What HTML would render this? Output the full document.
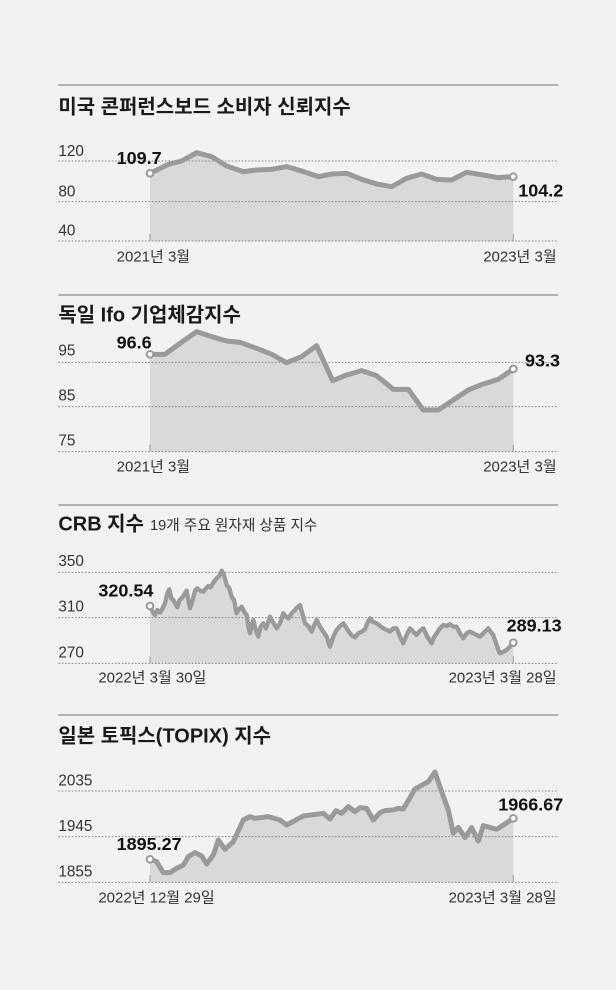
<!DOCTYPE html>
<html><head><meta charset="utf-8"><style>
html,body{margin:0;padding:0;background:#f2f2f2;}
svg{display:block;}
.t{font-family:"Liberation Sans","Noto Sans CJK KR",sans-serif;font-weight:bold;font-size:60px;fill:#1a1a1a;}
.s{font-family:"Liberation Sans","Noto Sans CJK KR",sans-serif;font-size:44px;fill:#333;}
.k{font-family:"Liberation Sans",sans-serif;font-size:46px;fill:#333;}
.v{font-family:"Liberation Sans",sans-serif;font-weight:bold;font-size:54px;fill:#111;}
.b{font-family:"Liberation Sans","Noto Sans CJK KR",sans-serif;font-size:45px;fill:#333;}
.r{stroke:#888;stroke-width:4;}
.g{stroke:#888;stroke-width:3;stroke-dasharray:5 5;}
.a{fill:#d9d9d9;}
.l{fill:none;stroke:#9a9a9a;stroke-width:15;stroke-linejoin:round;}
.c{fill:#fff;stroke:#9a9a9a;stroke-width:6;}
.tk{stroke:#999;stroke-width:3;}
</style></head><body>
<svg width="616" height="990" viewBox="0 0 616 990" xmlns="http://www.w3.org/2000/svg">
<rect width="616" height="990" fill="#f2f2f2"/>

<g transform="translate(50,80) scale(0.3333)">
<line class="r" x1="25" y1="15" x2="1525" y2="15"/>
<text class="t" x="25" y="100">미국 콘퍼런스보드 소비자 신뢰지수</text>
<polygon class="a" points="300,280 355,253 395,243 440,218 485,230 530,258 580,275 620,270 665,268 710,260 755,273 805,290 845,282 890,280 935,298 980,312 1025,320 1070,295 1115,282 1160,298 1205,300 1250,277 1300,285 1345,293 1390,290 1390,483 300,483"/>
<line class="g" x1="25" y1="243" x2="1525" y2="243"/>
<line class="g" x1="25" y1="365" x2="1525" y2="365"/>
<line class="g" x1="25" y1="483" x2="1525" y2="483"/>
<line class="tk" x1="300" y1="462" x2="300" y2="483"/><line class="tk" x1="1390" y1="462" x2="1390" y2="483"/>
<polyline class="l" points="300,280 355,253 395,243 440,218 485,230 530,258 580,275 620,270 665,268 710,260 755,273 805,290 845,282 890,280 935,298 980,312 1025,320 1070,295 1115,282 1160,298 1205,300 1250,277 1300,285 1345,293 1390,290"/>
<circle class="c" cx="300" cy="280" r="10"/><circle class="c" cx="1390" cy="290" r="10"/>
<text class="k" x="25" y="228">120</text><text class="k" x="25" y="350">80</text><text class="k" x="25" y="467">40</text>
<text class="v" x="200" y="252">109.7</text><text class="v" x="1405" y="350">104.2</text>
<text class="b" x="200" y="545">2021년 3월</text><text class="b" x="1520" y="545" text-anchor="end">2023년 3월</text>
</g>

<g transform="translate(50,290) scale(0.3333)">
<line class="r" x1="25" y1="15" x2="1525" y2="15"/>
<text class="t" x="25" y="95">독일 Ifo 기업체감지수</text>
<polygon class="a" points="300,193 345,193 390,160 440,125 485,140 530,153 570,157 620,175 665,193 710,218 755,200 800,167 848,272 890,255 935,242 980,257 1030,298 1075,298 1120,360 1165,360 1210,330 1255,300 1300,282 1345,268 1390,237 1390,485 300,485"/>
<line class="g" x1="25" y1="217" x2="1525" y2="217"/>
<line class="g" x1="25" y1="350" x2="1525" y2="350"/>
<line class="g" x1="25" y1="485" x2="1525" y2="485"/>
<line class="tk" x1="300" y1="464" x2="300" y2="485"/><line class="tk" x1="1390" y1="464" x2="1390" y2="485"/>
<polyline class="l" points="300,193 345,193 390,160 440,125 485,140 530,153 570,157 620,175 665,193 710,218 755,200 800,167 848,272 890,255 935,242 980,257 1030,298 1075,298 1120,360 1165,360 1210,330 1255,300 1300,282 1345,268 1390,237"/>
<circle class="c" cx="300" cy="193" r="10"/><circle class="c" cx="1390" cy="237" r="10"/>
<text class="k" x="25" y="197">95</text><text class="k" x="25" y="332">85</text><text class="k" x="25" y="467">75</text>
<text class="v" x="200" y="175">96.6</text><text class="v" x="1425" y="230">93.3</text>
<text class="b" x="200" y="545">2021년 3월</text><text class="b" x="1520" y="545" text-anchor="end">2023년 3월</text>
</g>

<g transform="translate(50,500) scale(0.3333)">
<line class="r" x1="25" y1="15" x2="1525" y2="15"/>
<text class="t" x="25" y="92">CRB 지수</text>
<text class="s" x="300" y="90">19개 주요 원자재 상품 지수</text>
<polygon class="a" points="300,318 308,335 315,345 322,330 330,338 338,325 345,310 352,280 358,268 364,295 370,300 376,310 382,322 389,300 395,295 402,285 410,272 415,300 420,325 428,300 436,270 442,265 450,272 460,275 468,265 475,258 482,262 490,248 500,235 508,228 515,212 522,225 530,255 538,265 545,290 552,300 560,340 567,328 575,320 582,335 590,345 595,380 600,400 605,375 610,360 617,390 625,410 632,380 640,370 648,385 660,350 668,365 680,385 690,370 700,340 708,350 715,355 725,340 735,330 742,322 750,315 757,340 765,370 775,378 785,395 793,375 800,360 810,380 820,395 830,410 840,440 850,410 860,390 870,378 880,370 890,385 900,400 907,408 915,412 925,400 935,395 945,388 952,370 960,355 968,365 980,370 990,378 1000,385 1010,390 1020,395 1030,385 1040,385 1050,410 1060,430 1070,405 1080,385 1090,395 1100,405 1110,392 1120,385 1132,410 1145,430 1152,412 1160,400 1170,385 1180,375 1190,378 1200,373 1210,380 1220,380 1230,400 1240,415 1250,400 1260,395 1270,400 1280,405 1290,410 1300,400 1308,392 1315,385 1322,395 1330,405 1335,420 1340,435 1345,450 1350,460 1360,455 1370,450 1380,440 1390,428 1390,490 300,490"/>
<line class="g" x1="25" y1="217" x2="1525" y2="217"/>
<line class="g" x1="25" y1="353" x2="1525" y2="353"/>
<line class="g" x1="25" y1="490" x2="1525" y2="490"/>
<line class="tk" x1="300" y1="469" x2="300" y2="490"/><line class="tk" x1="1390" y1="469" x2="1390" y2="490"/>
<polyline class="l" style="stroke-width:13" points="300,318 308,335 315,345 322,330 330,338 338,325 345,310 352,280 358,268 364,295 370,300 376,310 382,322 389,300 395,295 402,285 410,272 415,300 420,325 428,300 436,270 442,265 450,272 460,275 468,265 475,258 482,262 490,248 500,235 508,228 515,212 522,225 530,255 538,265 545,290 552,300 560,340 567,328 575,320 582,335 590,345 595,380 600,400 605,375 610,360 617,390 625,410 632,380 640,370 648,385 660,350 668,365 680,385 690,370 700,340 708,350 715,355 725,340 735,330 742,322 750,315 757,340 765,370 775,378 785,395 793,375 800,360 810,380 820,395 830,410 840,440 850,410 860,390 870,378 880,370 890,385 900,400 907,408 915,412 925,400 935,395 945,388 952,370 960,355 968,365 980,370 990,378 1000,385 1010,390 1020,395 1030,385 1040,385 1050,410 1060,430 1070,405 1080,385 1090,395 1100,405 1110,392 1120,385 1132,410 1145,430 1152,412 1160,400 1170,385 1180,375 1190,378 1200,373 1210,380 1220,380 1230,400 1240,415 1250,400 1260,395 1270,400 1280,405 1290,410 1300,400 1308,392 1315,385 1322,395 1330,405 1335,420 1340,435 1345,450 1350,460 1360,455 1370,450 1380,440 1390,428"/>
<circle class="c" cx="300" cy="318" r="10"/><circle class="c" cx="1390" cy="428" r="10"/>
<text class="k" x="25" y="198">350</text><text class="k" x="25" y="335">310</text><text class="k" x="25" y="472">270</text>
<text class="v" x="145" y="290">320.54</text><text class="v" x="1370" y="395">289.13</text>
<text class="b" x="145" y="548">2022년 3월 30일</text><text class="b" x="1520" y="548" text-anchor="end">2023년 3월 28일</text>
</g>

<g transform="translate(50,710) scale(0.3333)">
<line class="r" x1="25" y1="15" x2="1525" y2="15"/>
<text class="t" x="25" y="97">일본 토픽스(TOPIX) 지수</text>
<polygon class="a" points="300,448 320,455 340,488 360,488 380,475 400,465 415,440 435,428 455,438 470,462 490,435 505,390 525,418 550,395 580,330 600,320 615,325 655,320 690,330 710,345 760,318 820,310 840,327 858,302 875,310 895,290 915,305 930,293 950,295 970,330 990,308 1005,302 1030,300 1045,295 1060,297 1095,237 1135,215 1155,186 1175,245 1195,300 1210,370 1225,352 1245,383 1265,353 1285,393 1300,347 1340,358 1365,342 1390,325 1390,517 300,517"/>
<line class="g" x1="25" y1="243" x2="1525" y2="243"/>
<line class="g" x1="25" y1="380" x2="1525" y2="380"/>
<line class="g" x1="25" y1="517" x2="1525" y2="517"/>
<line class="tk" x1="300" y1="496" x2="300" y2="517"/><line class="tk" x1="1390" y1="496" x2="1390" y2="517"/>
<polyline class="l" points="300,448 320,455 340,488 360,488 380,475 400,465 415,440 435,428 455,438 470,462 490,435 505,390 525,418 550,395 580,330 600,320 615,325 655,320 690,330 710,345 760,318 820,310 840,327 858,302 875,310 895,290 915,305 930,293 950,295 970,330 990,308 1005,302 1030,300 1045,295 1060,297 1095,237 1135,215 1155,186 1175,245 1195,300 1210,370 1225,352 1245,383 1265,353 1285,393 1300,347 1340,358 1365,342 1390,325"/>
<circle class="c" cx="300" cy="448" r="10"/><circle class="c" cx="1390" cy="325" r="10"/>
<text class="k" x="25" y="227">2035</text><text class="k" x="25" y="363">1945</text><text class="k" x="25" y="500">1855</text>
<text class="v" x="200" y="420">1895.27</text><text class="v" x="1345" y="302">1966.67</text>
<text class="b" x="145" y="578">2022년 12월 29일</text><text class="b" x="1520" y="578" text-anchor="end">2023년 3월 28일</text>
</g>
</svg>
</body></html>
